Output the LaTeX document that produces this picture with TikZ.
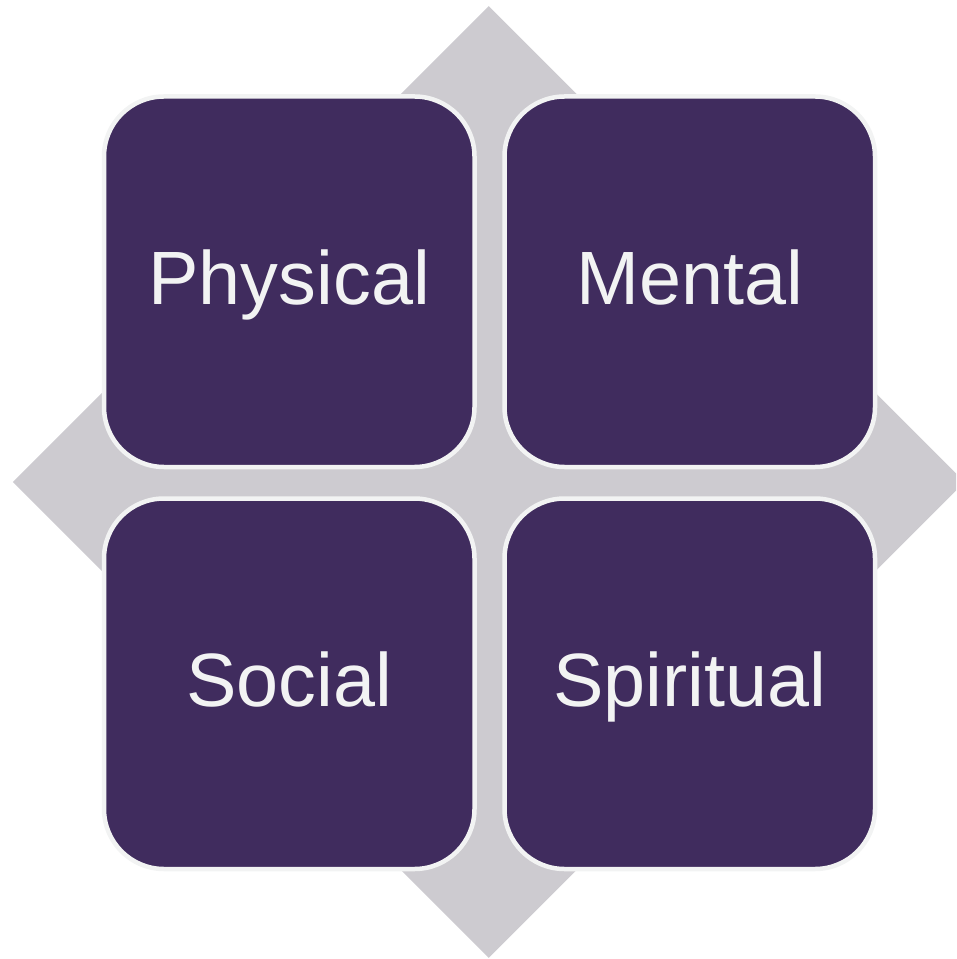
\documentclass[tikz,border=0pt]{standalone}
\usepackage{fontspec}
\setmainfont{Liberation Sans}
\usepackage{xcolor}
\usetikzlibrary{shapes.geometric}

\definecolor{quadpurple}{RGB}{64,44,94}
\definecolor{quadgrey}{RGB}{205,203,208}
\definecolor{quadwhite}{RGB}{242,243,243}

\begin{document}
\begin{tikzpicture}[
        quadbox/.style={draw=quadwhite, fill=quadpurple, rectangle, rounded corners=1.2cm, line width=0.09cm, minimum width=7.41cm, minimum height=7.41cm, inner sep=0pt, text=quadwhite, font=\fontsize{43}{52}\selectfont, text height=1.4cm, text depth=0.48cm},
        backdiamond/.style={diamond, fill=quadgrey, inner sep=0pt, minimum width=19.04cm, minimum height=19.04cm}
    ]

        % Canvas
        \useasboundingbox (0,0) rectangle (19.12,-19.18);
        \clip (0,0) rectangle (19.12,-19.18);

        % Background diamond
        \node[backdiamond] (back) at (9.774,-9.64) {};

        % Physical
        \node[quadbox] (physical) at (5.785,-5.635) {Physical};

        % Mental
        \node[quadbox] (mental) at (13.795,-5.635) {Mental};

        % Social
        \node[quadbox] (social) at (5.785,-13.675) {Social};

        % Spiritual
        \node[quadbox] (spiritual) at (13.795,-13.675) {Spiritual};

    \end{tikzpicture}
\end{document}
